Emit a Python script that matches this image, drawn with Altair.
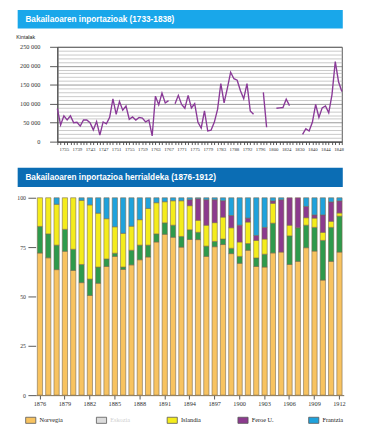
import altair as alt
import pandas as pd

title_top = "Bakailaoaren inportazioak (1733-1838)"
title_bottom = "Bakailaoaren inportazioa herrialdeka (1876-1912)"

line_years = [
    1733, 1734, 1735, 1736, 1737, 1738, 1739, 1740, 1741, 1742, 1743, 1744, 1745, 1746, 1747, 1748,
    1749, 1750, 1751, 1752, 1753, 1754, 1755, 1756, 1757, 1758, 1759, 1760, 1761, 1762, 1763, 1764,
    1765, 1766, 1767, 1768, 1769, 1770, 1771, 1772, 1773, 1774, 1775, 1776, 1777, 1778, 1779, 1780,
    1781, 1782, 1783, 1784, 1785, 1786, 1788, 1789, 1790, 1791, 1792, 1793, 1794, 1795, 1796, 1797,
    1798, 1799, 1800, 1801, 1802, 1803, 1824, 1825, 1826, 1828, 1830, 1832, 1834, 1836, 1840, 1841,
    1842, 1843, 1844, 1845, 1846, 1847, 1848, 1849,
]
line_values = [
    87000, 44000, 68000, 57000, 68000, 50000, 51000, 41000, 57000, 57000, 50000, 31000, 53000, 17000,
    52000, 47000, 64000, 113000, 72000, 106000, 83000, 94000, 59000, 65000, 57000, 64000, 62000, 52000,
    57000, 15000, 120000, 97000, 128000, 102000, 108000, None, 100000, 122000, 98000, 88000, 122000,
    89000, 100000, 51000, 36000, 81000, 28000, 30000, 51000, 85000, 153000, 102000, 141000, 183000,
    166000, 162000, 134000, 113000, 153000, 81000, 72000, None, None, 130000, 38000, None, None,
    88000, 89000, 90000, 112000, 95000, None, None, None, 19000, 34000, 28000, 51000, 98000, 64000,
    89000, 94000, 76000, 124000, 211000, 158000, 132000,
]
line_label_years = ["1735", "1739", "1743", "1747", "1751", "1755", "1759", "1763", "1767", "1771",
                    "1775", "1779", "1783", "1788", "1792", "1796", "1800", "1824", "1830", "1840",
                    "1844", "1848"]
y_ticks_line = [0, 10000, 20000, 30000, 40000, 50000, 60000, 70000, 80000, 90000, 100000, 110000,
                120000, 130000, 140000, 150000, 160000, 170000, 180000, 190000, 200000, 210000,
                220000, 230000, 240000, 250000]

bar_years = [1876, 1877, 1878, 1879, 1880, 1881, 1882, 1883, 1884, 1885, 1886, 1887, 1888, 1889,
             1890, 1891, 1892, 1893, 1894, 1895, 1896, 1897, 1898, 1899, 1900, 1901, 1902, 1903,
             1904, 1905, 1906, 1907, 1908, 1909, 1910, 1911, 1912]
bar_label_years = [1876, 1879, 1882, 1885, 1888, 1891, 1894, 1897, 1900, 1903, 1906, 1909, 1912]
countries = ["Norvegia", "Eskozia", "Islandia", "Feroe U.", "Frantzia"]
norvegia = [72.0, 69.6, 63.6, 72.9, 63.2, 57.0, 50.5, 56.7, 65.2, 70.3, 63.7, 66.0, 68.6, 70.0,
            77.6, 81.5, 80.0, 75.0, 78.8, 78.8, 70.3, 75.2, 76.3, 71.7, 66.8, 73.4, 65.2, 64.9,
            72.2, 72.5, 66.2, 67.8, 74.7, 73.0, 58.3, 67.8, 72.5]
eskozia = [13.5, 12.1, 12.4, 11.1, 10.7, 9.2, 8.3, 8.2, 3.8, 1.6, 1.2, 7.4, 7.4, 6.0, 4.1, 5.8,
           6.1, 5.4, 4.9, 3.7, 5.2, 2.7, 2.8, 2.7, 3.5, 3.4, 4.3, 6.5, 15.1, 0.0, 14.5, 17.0,
           11.4, 12.0, 20.1, 17.2, 18.2]
islandia = [14.5, 18.3, 20.7, 16.0, 26.1, 32.5, 37.6, 27.3, 20.4, 13.4, 17.1, 12.2, 12.9, 18.6,
            15.8, 10.7, 12.4, 18.1, 12.2, 6.1, 10.6, 9.5, 11.1, 10.4, 7.3, 10.9, 8.9, 7.7, 10.1,
            0.0, 5.4, 0.0, 3.8, 4.7, 4.1, 3.1, 1.6]
feroe = [0.0, 0.0, 0.0, 0.0, 0.0, 0.0, 0.0, 0.0, 0.0, 0.0, 0.0, 0.0, 0.0, 0.0, 0.0, 0.0, 0.0, 0.0,
         3.0, 10.9, 12.9, 11.6, 8.3, 6.2, 8.5, 2.0, 2.5, 5.9, 1.2, 26.5, 13.9, 15.2, 5.7, 1.6,
         8.8, 9.8, 6.1]
frantzia = [0.0, 0.0, 3.3, 0.0, 0.0, 1.3, 3.6, 7.8, 10.6, 14.7, 18.0, 14.4, 11.1, 5.4, 2.5, 2.0,
            1.5, 1.5, 1.0, 0.5, 1.0, 1.0, 1.5, 9.0, 13.9, 10.3, 19.1, 15.0, 1.6, 1.0, 0.0, 0.0,
            4.4, 8.7, 8.7, 2.1, 1.6]

bar_colors = ["#F8C360", "#2E9A4C", "#F4EC1C", "#8C3A8E", "#1FA2DC"]
legend_colors = ["#F8C360", "#DCDCDC", "#F4EC1C", "#8C3A8E", "#1FA2DC"]
legend_text_colors = ["#222222", "#D0D0D0", "#222222", "#222222", "#222222"]

rows = []
seg = 0
gap = True
for yr, v in zip(line_years, line_values):
    if v is None:
        gap = True
        continue
    if gap:
        seg += 1
        gap = False
    rows.append({"year": str(yr), "value": v, "seg": seg})
line_df = pd.DataFrame(rows)

series = [norvegia, eskozia, islandia, feroe, frantzia]
brows = []
for ci, (name, vals) in enumerate(zip(countries, series)):
    for yr, v in zip(bar_years, vals):
        if v > 0:
            brows.append({"year": yr, "country": name, "pct": v, "ord": ci})
bar_df = pd.DataFrame(brows)
leg_df = pd.DataFrame({"country": countries})

SERIF = "Liberation Serif"
SANS = "Liberation Sans"

def banner(text, fill, h):
    base = alt.Chart(pd.DataFrame({"t": [text]}))
    rect = base.mark_rect(color=fill).encode(
        x=alt.value(-41), x2=alt.value(295), y=alt.value(0), y2=alt.value(h))
    txt = base.mark_text(align="left", baseline="middle", color="white", font=SANS,
                         fontSize=8.5, fontWeight="bold").encode(
        x=alt.value(-33), y=alt.value(h / 2), text="t:N")
    return alt.layer(rect, txt).properties(
        width=294, height=h, view=alt.ViewBackground(stroke="transparent"))

b1 = banner(title_top, "#19A7EA", 19)
b2 = banner(title_bottom, "#0B6DB4", 20)

label_js = "[" + ",".join("'" + s + "'" for s in line_label_years) + "]"
major = "datum.value % 50000 === 0"
line = alt.Chart(line_df).mark_line(color="#8A3A98", strokeWidth=1.4).encode(
    x=alt.X("year:O",
            scale=alt.Scale(type="point", domain=[str(y) for y in line_years], padding=0),
            axis=alt.Axis(title=None, labelAngle=0, labelFont=SERIF, labelFontSize=5,
                          labelColor="#333",
                          labelExpr=f"indexof({label_js}, datum.label) >= 0 ? datum.label : ''",
                          labelOverlap=False, tickSize=3, tickColor="#555", domainColor="#444",
                          labelPadding=2)),
    y=alt.Y("value:Q", scale=alt.Scale(domain=[0, 250000], nice=False),
            axis=alt.Axis(values=y_ticks_line, title="Kintalak", titleAngle=0, titleAlign="left",
                          titleX=-43, titleY=-8, titleFont=SANS, titleFontSize=5.5,
                          titleFontWeight="normal", titleColor="#222",
                          labelExpr=f"{major} ? replace(format(datum.value, ','), ',', ' ') : ''",
                          labelFont=SERIF, labelFontSize=6.5, labelColor="#333", labelPadding=10,
                          tickSize=8, tickColor="#555",
                          tickOpacity={"condition": {"test": major, "value": 1}, "value": 0},
                          grid=True, gridWidth=0.7,
                          gridColor={"condition": {"test": major, "value": "#6a6a6a"},
                                     "value": "#b0b0b0"},
                          domainColor="#444")),
    detail="seg:N",
).properties(width=294, height=98,
             view=alt.ViewBackground(stroke="#555", strokeWidth=1))

bars = alt.Chart(bar_df).mark_bar(stroke="#7A6A50", strokeWidth=0.6).encode(
    x=alt.X("year:O", scale=alt.Scale(paddingInner=0.37, paddingOuter=0.2, range=[-22.4, 296]),
            axis=alt.Axis(title=None, values=bar_label_years, labelAngle=0, labelFont=SERIF,
                          labelFontSize=6.5, labelColor="#333", tickSize=4, tickColor="#555",
                          domainColor="#7A6A50", labelPadding=2)),
    y=alt.Y("pct:Q", stack="normalize", scale=alt.Scale(domain=[0, 1]),
            axis=alt.Axis(title=None, values=[0, 0.25, 0.5, 0.75, 1], offset=22.4,
                          labelExpr="format(datum.value * 100, 'd')", labelFont=SERIF,
                          labelFontSize=6, labelColor="#333", tickSize=8, tickColor="#555",
                          domain=False, grid=False, labelPadding=2.5)),
    color=alt.Color("country:N", scale=alt.Scale(domain=countries, range=bar_colors), legend=None),
    order=alt.Order("ord:Q", sort="ascending"),
).properties(width=294, height=204,
             view=alt.ViewBackground(stroke="transparent"))

swatch_path = "M-1,-0.6H1V0.6H-1Z"
leg_x = alt.X("country:N",
              scale=alt.Scale(type="point", domain=countries, range=[-27.5, 265], padding=0),
              axis=None)
leg_sw = alt.Chart(leg_df).mark_point(shape=swatch_path, filled=True, size=110, opacity=1,
                                      stroke="#555", strokeWidth=0.8).encode(
    x=leg_x,
    color=alt.Color("country:N", scale=alt.Scale(domain=countries, range=legend_colors),
                    legend=None),
)
leg_tx = alt.Chart(leg_df).mark_text(align="left", baseline="middle", dx=9, font=SERIF,
                                     fontSize=6.5).encode(
    x=leg_x,
    text="country:N",
    color=alt.Color("country:N", scale=alt.Scale(domain=countries, range=legend_text_colors),
                    legend=None),
)
legend = alt.layer(leg_sw, leg_tx).resolve_scale(color="independent").properties(
    width=294, height=10, view=alt.ViewBackground(stroke="transparent"))

top = alt.concat(b1, line, columns=1, spacing=4, align="none")
bottom_inner = alt.concat(bars, legend, columns=1, spacing=7, align="none")
bottom = alt.concat(b2, bottom_inner, columns=1, spacing=6, align="none")
chart = alt.concat(top, bottom, columns=1, spacing=15, align="none").properties(
    padding={"left": 7, "top": -6, "right": 0, "bottom": 0}, background="white"
).configure(font=SANS)

chart.save("out.html", embed_options={"renderer": "svg", "actions": False})
